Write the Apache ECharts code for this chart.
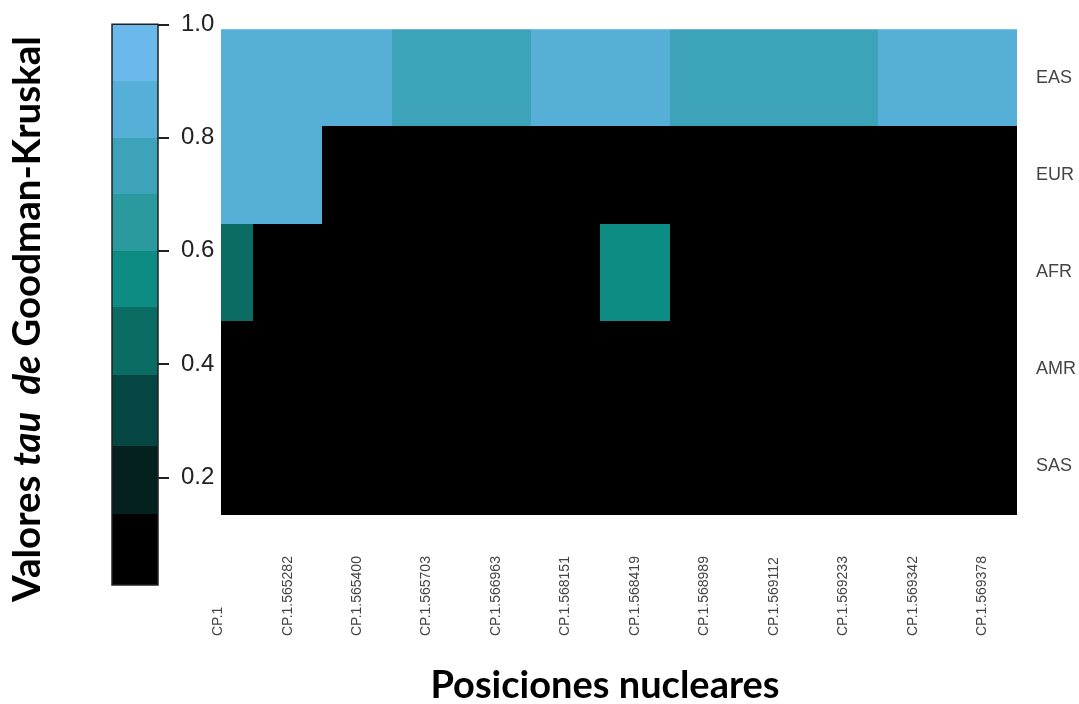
<!DOCTYPE html>
<html>
<head>
<meta charset="utf-8">
<script src="https://cdn.jsdelivr.net/npm/echarts@6/dist/echarts.min.js"></script>
<style>
  html, body { margin: 0; padding: 0; background: #ffffff; }
  #chart { width: 1079px; height: 704px; }
</style>
</head>
<body>
<div id="chart"></div>
<script>
// Nuclear positions (columns) and populations (rows)
const positions = [
  'CP.1', 'CP.1.565282', 'CP.1.565400', 'CP.1.565703', 'CP.1.566963', 'CP.1.568151',
  'CP.1.568419', 'CP.1.568989', 'CP.1.569112', 'CP.1.569233', 'CP.1.569342', 'CP.1.569378'
];
const populations = ['EAS', 'EUR', 'AFR', 'AMR', 'SAS'];

// Goodman-Kruskal tau per population, one value per position
const tauEAS = [0.85, 0.85, 0.85, 0.75, 0.75, 0.85, 0.85, 0.75, 0.75, 0.75, 0.85, 0.85];
const tauEUR = [0.85, 0.85, 0.05, 0.05, 0.05, 0.05, 0.05, 0.05, 0.05, 0.05, 0.05, 0.05];
const tauAFR = [0.45, 0.05, 0.05, 0.05, 0.05, 0.05, 0.55, 0.05, 0.05, 0.05, 0.05, 0.05];
const tauAMR = [0.05, 0.05, 0.05, 0.05, 0.05, 0.05, 0.05, 0.05, 0.05, 0.05, 0.05, 0.05];
const tauSAS = [0.05, 0.05, 0.05, 0.05, 0.05, 0.05, 0.05, 0.05, 0.05, 0.05, 0.05, 0.05];

// Colour scale: bin edges and one colour per bin
const scaleBreaks = [0.01, 0.135, 0.255, 0.38, 0.5, 0.6, 0.7, 0.8, 0.9, 1.0];
const scaleColors = ['#000000', '#04201f', '#064642', '#0a6c63', '#0d8c84',
                     '#2a9a9f', '#3ca3b9', '#55afd6', '#6bb9eb'];
const scaleTicks = [0.2, 0.4, 0.6, 0.8, 1.0];

// Cells are painted only from this x value on; the first position is partly cut
const X_START = 0.04;

function colorFor(v) {
  for (let i = 0; i < scaleColors.length; i++) {
    if (v <= scaleBreaks[i + 1]) return scaleColors[i];
  }
  return scaleColors[scaleColors.length - 1];
}

const rows = [tauEAS, tauEUR, tauAFR, tauAMR, tauSAS];
const cells = [];
rows.forEach((vals, r) => vals.forEach((v, c) => cells.push([c, r, v])));

const bins = scaleColors.map((col, i) => [0, scaleBreaks[i], scaleBreaks[i + 1], i]);
const barFrame = [[0, scaleBreaks[0], scaleBreaks[scaleBreaks.length - 1]]];

const labelFont = 'Liberation Sans, Arial, Helvetica, sans-serif';
const titleFont = 'Lato, "Open Sans", sans-serif';

const chart = echarts.init(document.getElementById('chart'), null, { renderer: 'canvas' });

chart.setOption({
  backgroundColor: '#ffffff',
  animation: false,
  grid: [
    { left: 183.5, right: 62, top: 29.3, bottom: 189 },
    { left: 112, width: 46, top: 24.3, bottom: 113.4 }
  ],
  xAxis: [
    {
      gridIndex: 0,
      type: 'value',
      min: -0.5,
      max: positions.length - 0.5,
      axisLine: { show: false },
      axisTick: { show: false },
      splitLine: { show: false },
      axisLabel: {
        customValues: positions.map((_, i) => i),
        formatter: v => positions[Math.round(v)],
        rotate: 90,
        align: 'left',
        margin: 121,
        padding: [0, 0, 8, 0],
        fontSize: 14,
        color: '#444444',
        fontFamily: labelFont
      }
    },
    {
      gridIndex: 1,
      type: 'category',
      data: [''],
      show: false
    }
  ],
  yAxis: [
    {
      gridIndex: 0,
      type: 'category',
      data: populations,
      inverse: true,
      position: 'right',
      axisLine: { show: false },
      axisTick: { show: false },
      splitLine: { show: false },
      axisLabel: {
        margin: 19,
        fontSize: 18,
        color: '#444444',
        fontFamily: labelFont
      }
    },
    {
      gridIndex: 1,
      type: 'value',
      min: 0,
      max: 1,
      position: 'right',
      axisLine: { show: false },
      splitLine: { show: false },
      axisTick: {
        show: true,
        customValues: scaleTicks,
        length: 11,
        lineStyle: { color: '#222222', width: 2 }
      },
      axisLabel: {
        customValues: scaleTicks,
        formatter: v => v.toFixed(1),
        margin: 23,
        fontSize: 24,
        color: '#222222',
        fontFamily: labelFont
      }
    }
  ],
  series: [
    {
      name: 'tau',
      type: 'custom',
      xAxisIndex: 0,
      yAxisIndex: 0,
      clip: true,
      data: cells,
      encode: { x: 0, y: 1 },
      renderItem(params, api) {
        const c = api.value(0);
        const r = api.value(1);
        const center = api.coord([c, r]);
        const size = api.size([1, 1]);
        const leftLimit = api.coord([X_START, r])[0];
        const x0 = Math.round(Math.max(center[0] - size[0] / 2, leftLimit));
        const x1 = Math.round(center[0] + size[0] / 2);
        const y0 = Math.round(center[1] - size[1] / 2);
        const y1 = Math.round(center[1] + size[1] / 2);
        return {
          type: 'rect',
          shape: { x: x0, y: y0, width: x1 - x0, height: y1 - y0 },
          style: { fill: colorFor(api.value(2)) }
        };
      }
    },
    {
      name: 'scale',
      type: 'custom',
      xAxisIndex: 1,
      yAxisIndex: 1,
      data: bins,
      encode: { x: 0, y: [1, 2] },
      renderItem(params, api) {
        const cs = params.coordSys;
        const yTop = Math.round(api.coord([0, api.value(2)])[1]);
        const yBot = Math.round(api.coord([0, api.value(1)])[1]);
        return {
          type: 'rect',
          shape: { x: cs.x, y: yTop, width: cs.width, height: yBot - yTop },
          style: { fill: scaleColors[api.value(3)] }
        };
      }
    },
    {
      name: 'scaleFrame',
      type: 'custom',
      xAxisIndex: 1,
      yAxisIndex: 1,
      z: 5,
      data: barFrame,
      encode: { x: 0, y: [1, 2] },
      renderItem(params, api) {
        const cs = params.coordSys;
        const yTop = api.coord([0, api.value(2)])[1];
        const yBot = api.coord([0, api.value(1)])[1];
        return {
          type: 'rect',
          shape: { x: cs.x, y: yTop, width: cs.width, height: yBot - yTop },
          style: { fill: 'none', stroke: '#222222', lineWidth: 1.5 }
        };
      }
    }
  ],
  graphic: [
    {
      type: 'text',
      x: 605,
      y: 686,
      style: {
        text: 'Posiciones nucleares',
        fontFamily: titleFont,
        fontWeight: 'bold',
        fontSize: 38,
        fill: '#000000',
        align: 'center',
        verticalAlign: 'middle'
      }
    },
    {
      type: 'text',
      x: 28,
      y: 319,
      rotation: Math.PI / 2,
      style: {
        text: '{n|Valores }{i|tau  de }{n|Goodman-Kruskal}',
        align: 'center',
        verticalAlign: 'middle',
        fill: '#000000',
        rich: {
          n: { fontFamily: titleFont, fontWeight: 'bold', fontSize: 38.5, fill: '#000000', color: '#000000' },
          i: { fontFamily: titleFont, fontWeight: 'bold', fontStyle: 'italic', fontSize: 38.5, fill: '#000000', color: '#000000' }
        }
      }
    }
  ]
});
</script>
</body>
</html>
